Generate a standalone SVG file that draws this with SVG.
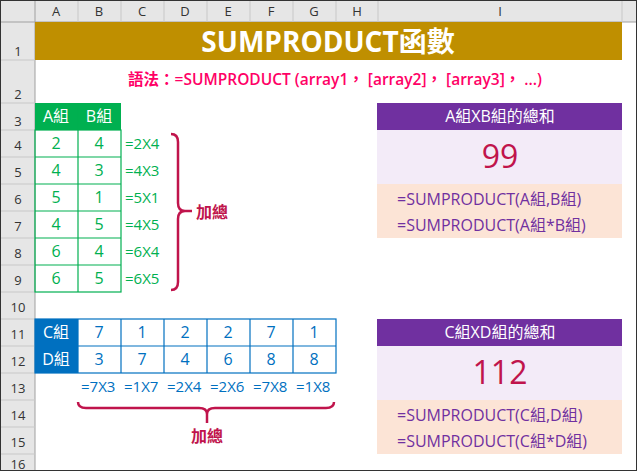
<svg xmlns="http://www.w3.org/2000/svg" width="637" height="471" viewBox="0 0 637 471">
<style>
text{font-family:"Open Sans","Liberation Sans","Noto Sans CJK TC",sans-serif}
.hd{font-size:13px;fill:#333;text-anchor:middle}
.hl{stroke:#c8c8c8;stroke-width:1}
.g{font-size:16px;fill:#00b050;text-anchor:middle}
.gf{font-size:15px;fill:#00b050}
.b{font-size:16px;fill:#0070c0;text-anchor:middle}
.bf{font-size:15px;fill:#0070c0}
.p{font-size:16px;fill:#7030a0}
.brace{fill:none;stroke:#c0144c;stroke-width:2.5}
</style>
<rect width="637" height="471" fill="#fff"/>
<g id="headers">
<rect x="0" y="0" width="637" height="22" fill="#e6e6e6"/>
<rect x="0" y="0" width="35" height="471" fill="#e6e6e6"/>
<line x1="0" y1="22" x2="637" y2="22" stroke="#a0a0a0"/>
<line x1="35" y1="0" x2="35" y2="471" stroke="#a0a0a0"/>
<g class="hl">
<line x1="78" y1="0" x2="78" y2="22"/><line x1="121" y1="0" x2="121" y2="22"/><line x1="164" y1="0" x2="164" y2="22"/><line x1="207" y1="0" x2="207" y2="22"/><line x1="250" y1="0" x2="250" y2="22"/><line x1="293" y1="0" x2="293" y2="22"/><line x1="336" y1="0" x2="336" y2="22"/><line x1="378" y1="0" x2="378" y2="22"/><line x1="622" y1="0" x2="622" y2="22"/>
<line x1="0" y1="60" x2="35" y2="60"/><line x1="0" y1="103" x2="35" y2="103"/><line x1="0" y1="130" x2="35" y2="130"/><line x1="0" y1="157" x2="35" y2="157"/><line x1="0" y1="184" x2="35" y2="184"/><line x1="0" y1="211" x2="35" y2="211"/><line x1="0" y1="238" x2="35" y2="238"/><line x1="0" y1="265" x2="35" y2="265"/><line x1="0" y1="292" x2="35" y2="292"/><line x1="0" y1="319" x2="35" y2="319"/><line x1="0" y1="346" x2="35" y2="346"/><line x1="0" y1="373" x2="35" y2="373"/><line x1="0" y1="400" x2="35" y2="400"/><line x1="0" y1="427" x2="35" y2="427"/><line x1="0" y1="454" x2="35" y2="454"/>
</g>
<text class="hd" x="56" y="16">A</text><text class="hd" x="99" y="16">B</text><text class="hd" x="142" y="16">C</text><text class="hd" x="185" y="16">D</text><text class="hd" x="228" y="16">E</text><text class="hd" x="271" y="16">F</text><text class="hd" x="314" y="16">G</text><text class="hd" x="357" y="16">H</text><text class="hd" x="500" y="16">I</text>
<text class="hd" x="18" y="56">1</text><text class="hd" x="18" y="99">2</text><text class="hd" x="18" y="126">3</text><text class="hd" x="18" y="150">4</text><text class="hd" x="18" y="177">5</text><text class="hd" x="18" y="204">6</text><text class="hd" x="18" y="231">7</text><text class="hd" x="18" y="258">8</text><text class="hd" x="18" y="285">9</text><text class="hd" x="18" y="312">10</text><text class="hd" x="18" y="339">11</text><text class="hd" x="18" y="366">12</text><text class="hd" x="18" y="393">13</text><text class="hd" x="18" y="420">14</text><text class="hd" x="18" y="447">15</text><text class="hd" x="18" y="469">16</text>
<rect x="0.5" y="0.5" width="636" height="470" fill="none" stroke="#333"/>
</g>
<g id="title">
<rect x="35" y="22" width="587" height="38" fill="#bf8f00"/>
<text x="328" y="52" font-size="28" fill="#fff" text-anchor="middle" font-weight="bold">SUMPRODUCT函數</text>
<text x="335" y="85" font-size="15.5" fill="#ff0066" text-anchor="middle" font-weight="600">語法：=SUMPRODUCT (array1， [array2]， [array3]， ...)</text>
</g>
<g id="tableAB">
<rect x="35" y="103" width="86" height="27" fill="#00b050"/>
<text x="56" y="122" font-size="16" fill="#fff" text-anchor="middle">A組</text>
<text x="99" y="122" font-size="16" fill="#fff" text-anchor="middle">B組</text>
<g fill="none" stroke="#00b050" stroke-width="1.2">
<rect x="35" y="130" width="86" height="162"/>
<line x1="78" y1="103" x2="78" y2="292"/>
<line x1="35" y1="157" x2="121" y2="157"/><line x1="35" y1="184" x2="121" y2="184"/><line x1="35" y1="211" x2="121" y2="211"/><line x1="35" y1="238" x2="121" y2="238"/><line x1="35" y1="265" x2="121" y2="265"/>
</g>
<text class="g" x="56" y="149">2</text><text class="g" x="99" y="149">4</text>
<text class="g" x="56" y="176">4</text><text class="g" x="99" y="176">3</text>
<text class="g" x="56" y="203">5</text><text class="g" x="99" y="203">1</text>
<text class="g" x="56" y="230">4</text><text class="g" x="99" y="230">5</text>
<text class="g" x="56" y="257">6</text><text class="g" x="99" y="257">4</text>
<text class="g" x="56" y="284">6</text><text class="g" x="99" y="284">5</text>
<text class="gf" x="125" y="149">=2X4</text><text class="gf" x="125" y="176">=4X3</text><text class="gf" x="125" y="203">=5X1</text><text class="gf" x="125" y="230">=4X5</text><text class="gf" x="125" y="257">=6X4</text><text class="gf" x="125" y="284">=6X5</text>
</g>
<g id="tableCD">
<rect x="35" y="319" width="43" height="54" fill="#0070c0"/>
<text x="56" y="338" font-size="16" fill="#fff" text-anchor="middle">C組</text>
<text x="56" y="365" font-size="16" fill="#fff" text-anchor="middle">D組</text>
<g fill="none" stroke="#0070c0" stroke-width="1.2">
<rect x="35" y="319" width="301" height="54"/>
<line x1="78" y1="346" x2="336" y2="346"/>
<line x1="78" y1="319" x2="78" y2="373"/><line x1="121" y1="319" x2="121" y2="373"/><line x1="164" y1="319" x2="164" y2="373"/><line x1="207" y1="319" x2="207" y2="373"/><line x1="250" y1="319" x2="250" y2="373"/><line x1="293" y1="319" x2="293" y2="373"/>
</g>
<text class="b" x="99" y="338">7</text><text class="b" x="142" y="338">1</text><text class="b" x="185" y="338">2</text><text class="b" x="228" y="338">2</text><text class="b" x="271" y="338">7</text><text class="b" x="314" y="338">1</text>
<text class="b" x="99" y="365">3</text><text class="b" x="142" y="365">7</text><text class="b" x="185" y="365">4</text><text class="b" x="228" y="365">6</text><text class="b" x="271" y="365">8</text><text class="b" x="314" y="365">8</text>
<text class="bf" x="81" y="392">=7X3</text><text class="bf" x="124" y="392">=1X7</text><text class="bf" x="167" y="392">=2X4</text><text class="bf" x="210" y="392">=2X6</text><text class="bf" x="253" y="392">=7X8</text><text class="bf" x="296" y="392">=1X8</text>
</g>
<g id="connectors">
<path class="brace" d="M171,134 Q178,134 178,142 L178,203 Q178,211 185,211 Q178,211 178,219 L178,282 Q178,290 171,290"/>
<line class="brace" x1="185" y1="211" x2="192" y2="211"/>
<path class="brace" d="M78,402 Q78,408 86,408 L199,408 Q207,408 207,414 Q207,408 215,408 L326,408 Q334,408 334,402"/>
<line class="brace" x1="207" y1="414" x2="207" y2="423"/>
</g>
<g id="label1"><text x="196" y="218" font-size="16" fill="#c0144c" font-weight="bold">加總</text></g>
<g id="label2"><text x="207" y="442" font-size="16" fill="#c0144c" font-weight="bold" text-anchor="middle">加總</text></g>
<g id="boxAB">
<rect x="377" y="103" width="245" height="27" fill="#7030a0"/>
<rect x="377" y="130" width="245" height="54" fill="#f3ebf8"/>
<rect x="377" y="184" width="245" height="54" fill="#fce4d6"/>
<text x="500" y="122" font-size="16" fill="#fff" text-anchor="middle">A組XB組的總和</text>
<text x="500" y="168" font-size="32" fill="#c0144c" text-anchor="middle">99</text>
<text class="p" x="397" y="205">=SUMPRODUCT(A組,B組)</text>
<text class="p" x="397" y="231">=SUMPRODUCT(A組*B組)</text>
</g>
<g id="boxCD">
<rect x="377" y="319" width="245" height="27" fill="#7030a0"/>
<rect x="377" y="346" width="245" height="54" fill="#f3ebf8"/>
<rect x="377" y="400" width="245" height="54" fill="#fce4d6"/>
<text x="500" y="338" font-size="16" fill="#fff" text-anchor="middle">C組XD組的總和</text>
<text x="500" y="384" font-size="32" fill="#c0144c" text-anchor="middle">112</text>
<text class="p" x="397" y="421">=SUMPRODUCT(C組,D組)</text>
<text class="p" x="397" y="447">=SUMPRODUCT(C組*D組)</text>
</g>
</svg>
